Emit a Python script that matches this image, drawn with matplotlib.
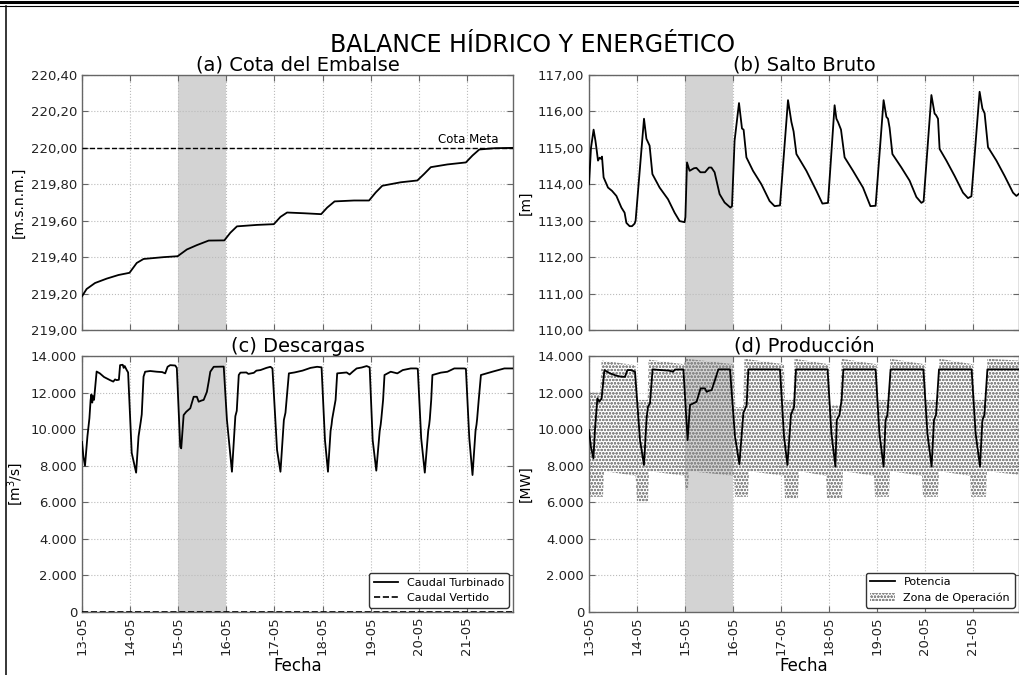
import matplotlib
matplotlib.use('Agg')
import numpy as np
import matplotlib.pyplot as plt
from matplotlib.ticker import FuncFormatter, FixedLocator
from matplotlib.lines import Line2D
from matplotlib.patches import Patch

plt.rcParams['font.family'] = ['DejaVu Sans']
plt.rcParams['hatch.linewidth'] = 0.7

# ---------------- data ----------------
day_ticks = [0, 24, 48, 72, 96, 120, 144, 168, 192]
day_labels = ['13-05', '14-05', '15-05', '16-05', '17-05', '18-05', '19-05', '20-05', '21-05']
x_max = 215
span_start, span_end = 48, 72
cota_meta = 220.0

cota_hours = [0, 2.3, 6.5, 12.3, 18.2, 23.7, 27.3, 30.7, 40.7, 47.7, 52.3, 57.3, 63.2, 71, 74, 77.3,
              87.3, 95.7, 99, 102.3, 110.7, 119.3, 122.3, 126, 135.7, 143.2, 146.5, 149.8, 159, 167.3,
              170.7, 174, 182.3, 191.5, 194.8, 198.2, 205.7, 215]
cota_vals = [219.185, 219.225, 219.258, 219.282, 219.302, 219.314, 219.368, 219.39, 219.40, 219.405,
             219.442, 219.466, 219.491, 219.492, 219.534, 219.569, 219.577, 219.581, 219.621, 219.645,
             219.641, 219.636, 219.672, 219.706, 219.711, 219.711, 219.755, 219.792, 219.811, 219.821,
             219.857, 219.894, 219.909, 219.92, 219.958, 219.991, 219.998, 220.0]

salto_hours = [0, 1.0, 2.3, 3.2, 3.7, 4.5, 5.3, 6.0, 6.5, 7.3, 9.5, 11.5, 13.7, 16.2, 17.8, 18.7, 20.3,
               21.5, 22.8, 23.3, 27.5, 28.7, 30.3, 31.7, 35.3, 39.5, 42.8, 45.3, 47.8, 48.2, 49, 50.3,
               52.5, 53.7, 55.7, 58, 60, 61.2, 62.8, 65.3, 67.8, 70.7, 71.5, 72.8, 75, 76.5, 77.3, 78.7,
               82, 86.2, 90.3, 92.8, 95.5, 99.5, 101.2, 102.3, 103.7, 108.7, 113.7, 116.7, 119.5, 122.8,
               123.7, 124.5, 126, 127.8, 132, 137, 140.7, 143.3, 147.3, 148.7, 149.5, 150.3, 151.7,
               156.2, 160.3, 163.7, 166.2, 167.3, 171.2, 172.8, 173.5, 174.5, 175.3, 178.7, 182.8, 187,
               189.5, 191.2, 195.3, 196.7, 197.8, 199.5, 203.7, 207.8, 212, 213.7, 215]
salto_vals = [114.00, 115.0, 115.50, 115.2, 115.0, 114.65, 114.73, 114.70, 114.76, 114.19, 113.91, 113.82,
              113.68, 113.36, 113.22, 112.94, 112.85, 112.85, 112.92, 113.0, 115.80, 115.25, 115.06,
              114.28, 113.91, 113.59, 113.22, 112.99, 112.96, 113.1, 114.60, 114.37, 114.44, 114.45,
              114.33, 114.33, 114.46, 114.46, 114.33, 113.73, 113.50, 113.36, 113.4, 115.20, 116.23,
              115.53, 115.50, 114.74, 114.37, 114.0, 113.54, 113.40, 113.42, 116.31, 115.71, 115.45,
              114.83, 114.37, 113.82, 113.47, 113.49, 116.17, 115.8, 115.71, 115.5, 114.74, 114.37,
              113.91, 113.40, 113.41, 116.31, 115.85, 115.8, 115.55, 114.83, 114.46, 114.10, 113.65,
              113.49, 113.53, 116.45, 115.94, 115.9, 115.80, 114.97, 114.65, 114.23, 113.77, 113.62,
              113.67, 116.54, 116.08, 115.95, 115.02, 114.65, 114.23, 113.77, 113.68, 113.74]

turb_hours = [0, 0.7, 1.5, 2.7, 3.7, 4.3, 4.7, 5.1, 5.5, 6.0, 7.3, 8.9, 11, 14, 15.6, 16.5, 17.3, 18.4,
              19.0, 20.3, 20.8, 21.3, 22.3, 23, 24.8, 27, 28.2, 29.3, 29.8, 30.7, 31.5, 34, 37.3, 40,
              41.5, 42.7, 44, 46.5, 47.3, 49, 49.5, 50.7, 52, 54, 55.7, 57.3, 58.2, 59.5, 60.7, 62.3,
              63.2, 64, 65.7, 70.7, 72.3, 74.8, 76.5, 77.2, 78.2, 79, 82, 83, 85.7, 87, 89, 92, 94, 95,
              97.3, 99, 100.7, 101.5, 103.2, 106, 110, 114, 117.3, 119.5, 121.2, 122.7, 124, 124.5,
              124.8, 126.5, 127.3, 132, 133.5, 135, 137, 139.5, 142, 143.5, 145, 146.8, 148.5, 149,
              149.3, 150.2, 150.9, 154, 157.3, 160, 164, 166.7, 167.5, 169.2, 171, 172.7, 173.2, 173.5,
              174.2, 174.8, 179, 182.3, 185.7, 190.7, 191.5, 193.2, 194.8, 196.3, 196.8, 197.1, 197.9,
              199, 205, 210.7, 215]
turb_vals = [9300, 8500, 8000, 9600, 10600, 11600, 11900, 11450, 11800, 11600, 13150, 13050, 12850,
             12680, 12600, 12720, 12680, 12700, 13500, 13520, 13350, 13450, 13230, 13100, 8700, 7620,
             9600, 10400, 10800, 12870, 13140, 13180, 13140, 13120, 13050, 13410, 13500, 13480, 13350,
             9040, 8950, 10770, 10950, 11140, 11770, 11770, 11500, 11560, 11600, 12040, 12600, 13140,
             13410, 13420, 10500, 7670, 10710, 11000, 12960, 13090, 13100, 13020, 13080, 13200, 13230,
             13350, 13410, 13320, 8860, 7670, 10500, 10900, 13050, 13100, 13200, 13350, 13410, 13380,
             9400, 7670, 9900, 10250, 10550, 11600, 13050, 13100, 12990, 13140, 13320, 13370, 13450,
             13380, 9400, 7730, 9900, 10250, 10550, 11600, 12960, 13140, 13050, 13230, 13320, 13320,
             13300, 9500, 7620, 9900, 10250, 10550, 11600, 12960, 13090, 13140, 13320, 13320, 13300,
             9500, 7490, 9900, 10250, 10550, 11600, 12960, 13150, 13320, 13320]

vert_hours = [0, 215]
vert_vals = [0, 0]

pot_hours = [0, 1, 2.2, 3, 3.7, 4.2, 5.2, 5.8, 6.3, 7.7, 10.5, 13.8, 16, 18, 19.2, 21, 23, 25.5, 27.5,
             28.8, 29.5, 30.5, 31.8, 36, 40, 42, 43, 47.2, 49.3, 50.5, 52, 53.8, 55.8, 58, 58.8, 60,
             61.3, 63, 64.7, 70.5, 73, 75.2, 77.2, 78.8, 79.7, 95.5, 97.5, 99.2, 101, 102.5, 103.5,
             119.3, 121.2, 123.2, 123.9, 125.2, 126.3, 127.2, 143.3, 145.2, 147.3, 148.3, 149.2, 150.8,
             167.2, 169.2, 171.3, 172.5, 173.5, 175, 191.3, 193.3, 195.5, 196.7, 197.7, 199.2, 215]
pot_vals = [9950, 9000, 8400, 10000, 11000, 11680, 11500, 11600, 11680, 13230, 13050, 12920, 12870,
            12860, 13230, 13230, 13140, 9400, 8040, 10600, 11230, 11410, 13270, 13230, 13200, 13140,
            13260, 13270, 9400, 11320, 11400, 11500, 12230, 12230, 12040, 12100, 12130, 12690, 13270,
            13270, 9590, 8090, 10900, 11300, 13270, 13270, 9600, 8040, 10800, 11200, 13270, 13270,
            9770, 7950, 10500, 10770, 11590, 13270, 13270, 9770, 7950, 10500, 10770, 13270, 13270,
            9770, 7950, 10500, 10770, 13270, 13270, 9770, 7950, 10500, 10770, 13270, 13270]

zona_sup_hours = [0, 5.5, 6.3, 23.3, 24, 29.3, 29.8, 47.5, 48.5, 72.5, 73.2, 77, 77.7, 97.5, 98, 102.2,
                  102.7, 119.8, 120.5, 125.5, 126.2, 143.8, 144.5, 150, 150.6, 167.8, 168.5, 174.5,
                  175.2, 192, 192.8, 198.5, 199.2, 215]
zona_sup_vals = [12000, 12000, 13750, 13500, 11600, 11600, 13800, 13550, 13850, 13550, 11200, 11200,
                 13850, 13550, 11600, 11600, 13850, 13550, 11300, 11300, 13850, 13550, 11600, 11600,
                 13850, 13550, 11600, 11600, 13850, 13550, 11600, 11600, 13850, 13750]
zona_inf_hours = [0, 7, 7.5, 23.3, 24, 29.5, 30, 47.8, 48.2, 49.5, 50, 72.5, 73, 79.5, 80, 97.5, 98,
                  104.5, 105, 118.5, 119, 126.5, 127, 142.5, 143, 150, 150.5, 166.5, 167, 174.5, 175,
                  190.5, 191, 198.5, 199, 215]
zona_inf_vals = [6300, 6300, 7700, 7450, 6000, 6000, 7700, 7450, 6700, 6700, 7700, 7450, 6300, 6300,
                 7700, 7450, 6200, 6200, 7700, 7450, 6200, 6200, 7700, 7450, 6300, 6300, 7700, 7450,
                 6300, 6300, 7700, 7450, 6300, 6300, 7700, 7500]

# ---------------- helpers ----------------
def fmt_dec(v, pos):
    return f"{v:.2f}".replace('.', ',')

def fmt_mil(v, pos):
    return f"{v:,.0f}".replace(',', '.')

W, H = 1020, 675
fig = plt.figure(figsize=(W / 100, H / 100), dpi=100)

def rect(l, t, r, b):
    return [l / W, 1 - b / H, (r - l) / W, (b - t) / H]

ax_a = fig.add_axes(rect(82, 75, 513, 330))
ax_b = fig.add_axes(rect(589, 75, 1019, 330))
ax_c = fig.add_axes(rect(82, 356, 513, 612))
ax_d = fig.add_axes(rect(589, 356, 1019, 612))

SPINE = '#666666'
for ax in (ax_a, ax_b, ax_c, ax_d):
    ax.axvspan(span_start, span_end, color='#d3d3d3', zorder=0, lw=0)
    ax.set_xlim(0, x_max)
    ax.xaxis.set_major_locator(FixedLocator(day_ticks))
    ax.grid(True, linestyle=':', color='#bbbbbb', linewidth=0.8, zorder=1)
    ax.tick_params(direction='in', length=4, top=True, right=True, color=SPINE,
                   labelsize=9.5, labelcolor='#222222')
    for s in ax.spines.values():
        s.set_color(SPINE)
        s.set_linewidth(1.0)

for ax in (ax_a, ax_b):
    ax.set_xticklabels([])
for ax in (ax_c, ax_d):
    ax.set_xticklabels(day_labels, rotation=90)
    ax.set_xlabel('Fecha', fontsize=12, labelpad=1)

# (a)
ax_a.plot(cota_hours, cota_vals, color='black', lw=1.3, zorder=3)
ax_a.axhline(cota_meta, color='black', ls='--', lw=1.0, zorder=3)
ax_a.text(208, cota_meta + 0.012, 'Cota Meta', fontsize=8.5, ha='right', va='bottom')
ax_a.set_ylim(219.0, 220.4)
ax_a.set_yticks([219.0, 219.2, 219.4, 219.6, 219.8, 220.0, 220.2, 220.4])
ax_a.yaxis.set_major_formatter(FuncFormatter(fmt_dec))
ax_a.set_ylabel('[m.s.n.m.]', fontsize=10)
ax_a.set_title('(a) Cota del Embalse', fontsize=14, pad=3)

# (b)
ax_b.plot(salto_hours, salto_vals, color='black', lw=1.3, zorder=3)
ax_b.set_ylim(110, 117)
ax_b.set_yticks(range(110, 118))
ax_b.yaxis.set_major_formatter(FuncFormatter(fmt_dec))
ax_b.set_ylabel('[m]', fontsize=10)
ax_b.set_title('(b) Salto Bruto', fontsize=14, pad=3)

# (c)
ax_c.plot(turb_hours, turb_vals, color='black', lw=1.3, zorder=3, label='Caudal Turbinado')
ax_c.plot(vert_hours, vert_vals, color='black', ls='--', lw=1.2, zorder=3, label='Caudal Vertido')
ax_c.set_ylim(0, 14000)
ax_c.set_yticks(range(0, 14001, 2000))
ax_c.yaxis.set_major_formatter(FuncFormatter(fmt_mil))
ax_c.set_ylabel('[m$^3$/s]', fontsize=10)
ax_c.set_title('(c) Descargas', fontsize=14, pad=3)
leg = ax_c.legend(loc='lower right', fontsize=8, fancybox=True, framealpha=1,
                  edgecolor='#333333', handlelength=2.2, borderaxespad=0.4)
leg.get_frame().set_linewidth(1.0)

# (d)
HATCH = 'ooooo'
HCOL = '#8a8a8a'
zh = sorted(set(zona_sup_hours) | set(zona_inf_hours))
sup = np.interp(zh, zona_sup_hours, zona_sup_vals)
inf = np.interp(zh, zona_inf_hours, zona_inf_vals)
ax_d.fill_between(zh, inf, sup, facecolor='none', edgecolor=HCOL, hatch=HATCH,
                  lw=0, zorder=2)
ax_d.plot(pot_hours, pot_vals, color='black', lw=1.3, zorder=3)
ax_d.set_ylim(0, 14000)
ax_d.set_yticks(range(0, 14001, 2000))
ax_d.yaxis.set_major_formatter(FuncFormatter(fmt_mil))
ax_d.set_ylabel('[MW]', fontsize=10)
ax_d.set_title('(d) Producción', fontsize=14, pad=3)
handles = [Line2D([], [], color='black', lw=1.3),
           Patch(facecolor='none', edgecolor=HCOL, hatch=HATCH, lw=0)]
leg = ax_d.legend(handles, ['Potencia', 'Zona de Operación'], loc='lower right', fontsize=8,
                  fancybox=True, framealpha=1, edgecolor='#333333', handlelength=2.2,
                  borderaxespad=0.4)
leg.get_frame().set_linewidth(1.0)

fig.text(0.5225, 0.933, 'BALANCE HÍDRICO Y ENERGÉTICO', fontsize=17, ha='center', va='center')

# frame lines of the screenshot
fig.add_artist(Line2D([0, 1], [1 - 1.5 / H, 1 - 1.5 / H], transform=fig.transFigure,
                      color='black', lw=2.2))
fig.add_artist(Line2D([0, 1], [1 - 6 / H, 1 - 6 / H], transform=fig.transFigure,
                      color='black', lw=0.8))
fig.add_artist(Line2D([6 / W, 6 / W], [0, 1 - 6 / H], transform=fig.transFigure,
                      color='black', lw=1.1))

fig.savefig('out.png', dpi=100)
